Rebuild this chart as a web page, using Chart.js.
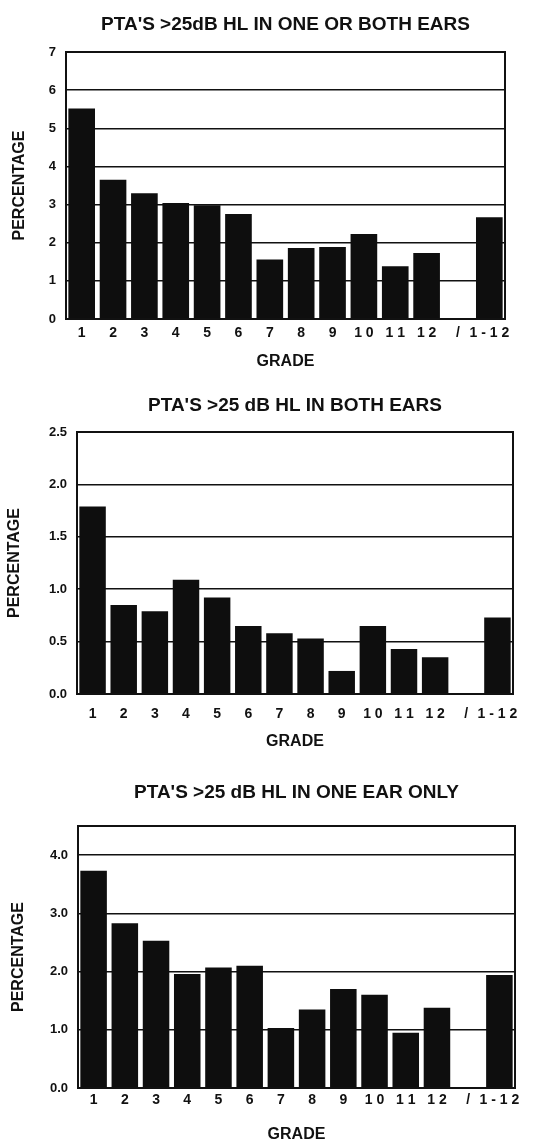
<!DOCTYPE html>
<html>
<head>
<meta charset="utf-8">
<script src="https://cdn.jsdelivr.net/npm/chart.js@4/dist/chart.umd.min.js"></script>
<style>
  html, body { margin: 0; padding: 0; background: #fff; }
  body { width: 535px; height: 1143px; position: relative; overflow: hidden; }
  .box { position: absolute; left: 0; width: 535px; }
  canvas { display: block; }
</style>
</head>
<body>
<div class="box" style="top:0;height:380px"><canvas id="c1" width="535" height="380"></canvas></div>
<div class="box" style="top:380px;height:380px"><canvas id="c2" width="535" height="380"></canvas></div>
<div class="box" style="top:760px;height:383px"><canvas id="c3" width="535" height="383"></canvas></div>
<script>
const grades = ['1', '2', '3', '4', '5', '6', '7', '8', '9', '1 0', '1 1', '1 2', '/', '1 - 1 2'];

const oneOrBothEars = [5.52, 3.65, 3.30, 3.04, 2.98, 2.75, 1.56, 1.86, 1.89, 2.23, 1.38, 1.73, null, 2.67];
const bothEars      = [1.79, 0.85, 0.79, 1.09, 0.92, 0.65, 0.58, 0.53, 0.22, 0.65, 0.43, 0.35, null, 0.73];
const oneEarOnly    = [3.73, 2.83, 2.53, 1.96, 2.07, 2.10, 1.03, 1.35, 1.70, 1.60, 0.95, 1.38, null, 1.94];

const yTicks1 = [0, 1, 2, 3, 4, 5, 6, 7];
const yLabels1 = ['0', '1', '2', '3', '4', '5', '6', '7'];
const yTicks2 = [0, 0.5, 1, 1.5, 2, 2.5];
const yLabels2 = ['0.0', '0.5', '1.0', '1.5', '2.0', '2.5'];
const yTicks3 = [0, 1, 2, 3, 4, 4.5];
const yLabels3 = ['0.0', '1.0', '2.0', '3.0', '4.0', ''];

const titles = [
  "PTA'S >25dB HL IN ONE OR BOTH EARS",
  "PTA'S >25 dB HL IN BOTH EARS",
  "PTA'S >25 dB HL IN ONE EAR ONLY"
];
const xTitle = 'GRADE';
const yTitle = 'PERCENTAGE';

const FONT = "'Liberation Sans', Arial, Helvetica, sans-serif";
const INK = '#111';

const frame = {
  id: 'frame',
  afterDatasetsDraw(chart) {
    const a = chart.chartArea, ctx = chart.ctx;
    ctx.save();
    ctx.strokeStyle = INK;
    ctx.lineWidth = 2;
    ctx.strokeRect(a.left, a.top, a.right - a.left, a.bottom - a.top);
    ctx.restore();
  }
};

function makeChart(id, data, title, yTicks, yLabels, L) {
  return new Chart(document.getElementById(id), {
    type: 'bar',
    data: {
      labels: grades,
      datasets: [{
        data: data,
        backgroundColor: '#0e0e0e',
        borderWidth: 0,
        categoryPercentage: 0.85,
        barPercentage: 1.0
      }]
    },
    plugins: [frame],
    options: {
      responsive: false,
      animation: false,
      devicePixelRatio: 1,
      layout: { padding: { left: 0, right: L.right, top: 0, bottom: 0 } },
      plugins: {
        legend: { display: false },
        tooltip: { enabled: false },
        title: {
          display: true,
          text: title,
          fullSize: false,
          color: INK,
          font: { family: FONT, size: 19, weight: 'bold', lineHeight: 1 },
          padding: { top: L.tTop, bottom: L.tBot }
        }
      },
      scales: {
        x: {
          grid: { display: false, drawTicks: false },
          border: { display: false },
          ticks: {
            color: INK,
            autoSkip: false,
            maxRotation: 0,
            minRotation: 0,
            padding: L.xPad,
            font: { family: FONT, size: 14, weight: 'bold' }
          },
          title: {
            display: true,
            text: xTitle,
            color: INK,
            font: { family: FONT, size: 16, weight: 'bold', lineHeight: 1 },
            padding: { top: 0, bottom: L.xtBot }
          },
          afterFit(s) { s.height = L.xH; }
        },
        y: {
          min: yTicks[0],
          max: yTicks[yTicks.length - 1],
          afterBuildTicks(s) { s.ticks = yTicks.map(v => ({ value: v })); },
          grid: { color: INK, lineWidth: 1.5, drawTicks: false },
          border: { display: false },
          ticks: {
            color: INK,
            padding: 10,
            font: { family: FONT, size: 13, weight: 'bold' },
            callback: (v, i) => yLabels[i]
          },
          title: {
            display: true,
            text: yTitle,
            color: INK,
            font: { family: FONT, size: 16, weight: 'bold', lineHeight: 1 },
            padding: { top: L.ytTop, bottom: 0 }
          },
          afterFit(s) { s.width = L.yW; }
        }
      }
    }
  });
}

makeChart('c1', oneOrBothEars, titles[0], yTicks1, yLabels1,
  { right: 30, tTop: 15.5, tBot: 17.5, xPad: 6, xtBot: 10, xH: 61, ytTop: 12, yW: 66 });
makeChart('c2', bothEars, titles[1], yTicks2, yLabels2,
  { right: 22, tTop: 16.5, tBot: 16.5, xPad: 12, xtBot: 10, xH: 66, ytTop: 7, yW: 77 });
makeChart('c3', oneEarOnly, titles[2], yTicks3, yLabels3,
  { right: 20, tTop: 23.5, tBot: 23.5, xPad: 4, xtBot: 0, xH: 55, ytTop: 11, yW: 78 });
</script>
</body>
</html>
